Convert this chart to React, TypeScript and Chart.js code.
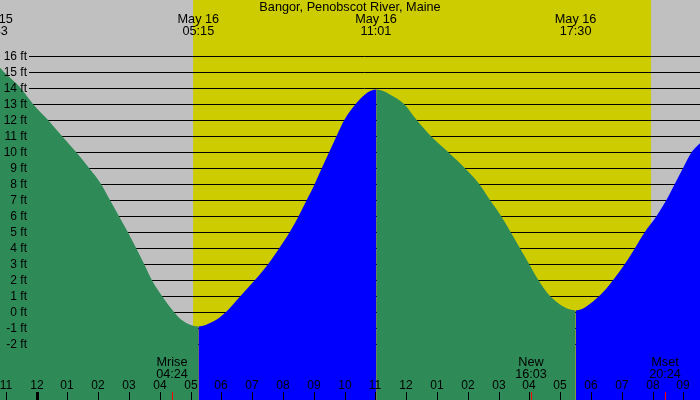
import { useEffect, useRef } from "react"
import { Chart, registerables } from "chart.js"

Chart.register(...registerables)

const title = "Bangor, Penobscot River, Maine"

// tide curve: hours from midnight May 16, height in feet
const tideHours = [
  -1.45, -1.19, -1.06, -0.52, -0.12, 0.37, 0.82, 1.28, 1.7, 2.09, 2.38, 2.67, 2.96, 3.23, 3.49, 3.74, 4.07, 4.46,
  4.71, 5.25, 5.73, 6.15, 6.62, 7.09, 7.52, 7.88, 8.22, 8.51, 8.77, 9.03, 9.26, 9.5, 9.74, 9.99, 10.36, 10.66,
  11.04, 11.47, 11.93, 12.34, 12.8, 13.36, 13.9, 14.37, 14.72, 15.08, 15.39, 15.69, 15.99, 16.29, 16.67,
  17.5, 18.27, 18.72, 19.1, 19.43, 19.75, 20.13, 20.45, 20.72, 20.99, 21.27, 21.54,
]
const tideFeet = [
  15.3, 15.25, 15.0, 14, 13, 12, 11, 10, 9, 8, 7, 6, 5, 4, 3, 2, 1, 0,
  -0.5, -0.9, -0.6, 0, 1, 2, 3, 4, 5, 6, 7, 8, 9, 10, 11, 12, 13, 13.6,
  13.9, 13.6, 13, 12, 11, 10, 9, 8, 7, 6, 5, 4, 3, 2, 1,
  0.1, 1, 2, 3, 4, 5, 6, 7, 8, 9, 10, 10.55,
]

const extremeHours = [-1.45, 5.25, 11.02, 17.5]
const extremeDates = ["May 15", "May 16", "May 16", "May 16"]
const extremeTimes = ["22:33", "05:15", "11:01", "17:30"]

const sunHours = [5.08, 19.95]

const moonHours = [4.4, 16.05, 20.4]
const moonNames = ["Mrise", "New", "Mset"]
const moonTimes = ["04:24", "16:03", "20:24"]

const hourTicks = [-1, 0, 1, 2, 3, 4, 5, 6, 7, 8, 9, 10, 11, 12, 13, 14, 15, 16, 17, 18, 19, 20, 21]
const hourLabels = [
  "11", "12", "01", "02", "03", "04", "05", "06", "07", "08", "09", "10",
  "11", "12", "01", "02", "03", "04", "05", "06", "07", "08", "09",
]

const footTicks = [-2, -1, 0, 1, 2, 3, 4, 5, 6, 7, 8, 9, 10, 11, 12, 13, 14, 15, 16]

const FONT = "12px 'Liberation Sans', Arial, sans-serif"
const TEXT_FONT = "12.7px 'Liberation Sans', Arial, sans-serif"

const tidePlugin = {
  id: "tideDecor",
  beforeDraw(chart: any) {
    const { ctx, scales } = chart
    const xs = scales.x
    const ys = scales.y
    ctx.save()
    ctx.fillStyle = "#c0c0c0"
    ctx.fillRect(0, 0, chart.width, chart.height)
    const x0 = xs.getPixelForValue(sunHours[0])
    const x1 = xs.getPixelForValue(sunHours[1])
    ctx.fillStyle = "#cccc00"
    ctx.fillRect(x0, 0, x1 - x0, chart.height)
    // horizontal foot lines, behind the tide
    ctx.strokeStyle = "#000"
    ctx.lineWidth = 1
    ctx.beginPath()
    footTicks.forEach((ft) => {
      const py = Math.round(ys.getPixelForValue(ft)) + 0.5
      ctx.moveTo(29, py)
      ctx.lineTo(chart.width, py)
    })
    ctx.stroke()
    ctx.restore()
  },
  afterDatasetsDraw(chart: any) {
    const { ctx, scales } = chart
    const xs = scales.x
    const ys = scales.y
    const h = chart.height
    ctx.save()
    ctx.fillStyle = "#000"
    ctx.textBaseline = "middle"

    // title
    ctx.font = TEXT_FONT
    ctx.textAlign = "center"
    ctx.fillText(title, chart.width / 2, 7)

    // tide extremes
    extremeHours.forEach((hr, i) => {
      const px = xs.getPixelForValue(hr)
      ctx.fillText(extremeDates[i], px, 19)
      ctx.fillText(extremeTimes[i], px, 31)
    })

    // foot labels
    ctx.font = FONT
    ctx.textAlign = "right"
    footTicks.forEach((ft) => {
      ctx.fillText(`${ft} ft`, 27, Math.round(ys.getPixelForValue(ft)) + 1)
    })

    // hour ticks and labels
    ctx.textAlign = "center"
    hourTicks.forEach((hr, i) => {
      const px = Math.round(xs.getPixelForValue(hr))
      ctx.fillStyle = "#000"
      ctx.fillText(hourLabels[i], px, 386)
      if (hr === 0) ctx.fillRect(px - 1, h - 8, 3, 8)
      else ctx.fillRect(px, h - 8, 1, 8)
    })

    // moon events
    ctx.font = TEXT_FONT
    moonHours.forEach((hr, i) => {
      const px = Math.round(xs.getPixelForValue(hr))
      ctx.fillStyle = "#ff0000"
      ctx.fillRect(px, h - 8, 1, 8)
      ctx.fillStyle = "#000"
      ctx.fillText(moonNames[i], px, 362)
      ctx.fillText(moonTimes[i], px, 374)
    })
    ctx.restore()
  },
}

function TideChart() {
  const chartRef = useRef<HTMLCanvasElement>(null)
  const chartInstance = useRef<Chart | null>(null)

  useEffect(() => {
    document.body.style.margin = "0"
    if (!chartRef.current) return
    const ctx = chartRef.current.getContext("2d")
    if (!ctx) return

    if (chartInstance.current) {
      chartInstance.current.destroy()
    }

    const tide = tideHours.map((hr, i) => ({ x: hr, y: tideFeet[i] }))

    chartInstance.current = new Chart(ctx, {
      type: "line",
      data: {
        datasets: [
          {
            label: "Tide",
            data: tide,
            backgroundColor: "#2e8b57",
            borderWidth: 0,
            pointRadius: 0,
            fill: "start",
            cubicInterpolationMode: "monotone",
            // green while the tide falls, blue while it rises
            segment: {
              backgroundColor: (c: any) => (c.p1.parsed.y < c.p0.parsed.y ? "#2e8b57" : "#0000ff"),
            },
          },
        ],
      },
      options: {
        responsive: false,
        animation: false,
        layout: { padding: 0 },
        plugins: {
          legend: { display: false },
          tooltip: { enabled: false },
        },
        scales: {
          x: { type: "linear", min: -1.19, max: 21.54, display: false },
          y: { min: -5.5, max: 19.5, display: false },
        },
      },
      plugins: [tidePlugin],
    } as any)

    return () => {
      if (chartInstance.current) {
        chartInstance.current.destroy()
        chartInstance.current = null
      }
    }
  }, [])

  return <canvas ref={chartRef} width={700} height={400} />
}

export default function App() {
  return (
    <div style={{ width: 700, height: 400 }}>
      <TideChart />
    </div>
  )
}
